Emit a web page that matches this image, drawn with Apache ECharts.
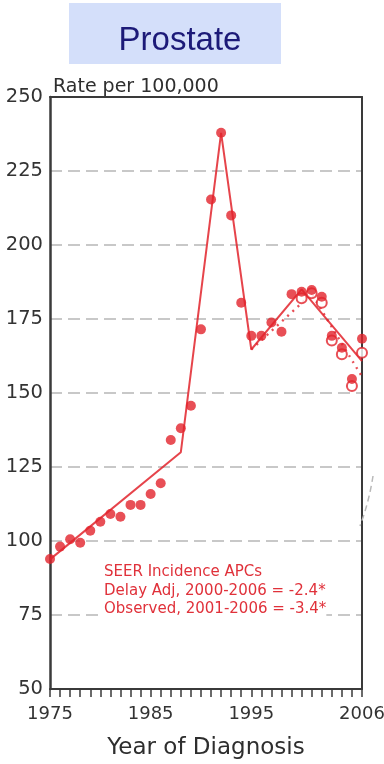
<!DOCTYPE html>
<html>
<head>
<meta charset="utf-8">
<script src="https://cdn.jsdelivr.net/npm/echarts@6/dist/echarts.min.js"></script>
<style>
  html, body { margin: 0; padding: 0; background: #fff; }
  #chart { width: 384px; height: 764px; }
</style>
</head>
<body>
<div id="chart"></div>
<script>
// Prostate cancer incidence, SEER, rate per 100,000
const years = [1975, 1976, 1977, 1978, 1979, 1980, 1981, 1982, 1983, 1984, 1985,
  1986, 1987, 1988, 1989, 1990, 1991, 1992, 1993, 1994, 1995, 1996, 1997, 1998,
  1999, 2000, 2001, 2002, 2003, 2004, 2005, 2006];

// Delay-adjusted rates (filled circles)
const delayAdjusted = [93.9, 98.1, 100.6, 99.4, 103.5, 106.5, 109.1, 108.2, 112.2,
  112.2, 115.9, 119.5, 134.1, 138.1, 145.7, 171.5, 215.4, 237.9, 210.0, 180.5,
  169.3, 169.3, 173.8, 170.7, 183.4, 184.2, 184.8, 182.5, 169.3, 165.3, 154.7, 168.3];

// Observed rates (open circles)
const observedYears = [2000, 2001, 2002, 2003, 2004, 2005, 2006];
const observed = [182.0, 183.7, 180.5, 167.7, 163.1, 152.4, 163.6];

// Joinpoint trend for the delay-adjusted series
const trendAdjYears = [1975, 1988, 1992, 1995, 2000, 2006];
const trendAdj = [93.8, 130.0, 237.9, 164.7, 185.0, 160.8];

// Joinpoint trend for the observed series
const trendObsYears = [1995, 2001, 2006];
const trendObs = [164.7, 183.5, 155.5];

const xTickLabels = [1975, 1985, 1995, 2006];
const yTicks = [50, 75, 100, 125, 150, 175, 200, 225, 250];

const apcLines = [
  'SEER Incidence APCs',
  'Delay Adj, 2000-2006 = -2.4*',
  'Observed, 2001-2006 = -3.4*'
];

const red = '#e2232c';
const frame = '#3a3a3a';
const pair = (xs, ys) => xs.map((x, i) => [x, ys[i]]);

// Plain frame axes for the top and right edges of the plot box
const frameAxis = (extra) => Object.assign({
  type: 'value',
  axisLine: { show: true, onZero: false, lineStyle: { color: frame, width: 2 } },
  axisTick: { show: false },
  axisLabel: { show: false },
  splitLine: { show: false }
}, extra);

const chart = echarts.init(document.getElementById('chart'));
chart.setOption({
  animation: false,
  backgroundColor: '#ffffff',
  title: {
    text: 'Prostate',
    left: 175,
    textAlign: 'center',
    top: 19,
    textStyle: {
      fontFamily: 'Liberation Sans',
      fontSize: 33,
      fontWeight: 'normal',
      color: '#1c1a78'
    }
  },
  grid: {
    left: 50, right: 22, top: 97, bottom: 75,
    outerBoundsMode: 'none',
    containLabel: false
  },
  xAxis: [
    {
      type: 'value',
      min: 1975, max: 2006, interval: 1,
      name: 'Year of Diagnosis',
      nameLocation: 'middle',
      nameGap: 48,
      nameTextStyle: { fontFamily: 'DejaVu Sans', fontSize: 23, color: '#2e2e2e' },
      axisLine: { show: true, onZero: false, lineStyle: { color: frame, width: 2 } },
      axisTick: { show: true, length: 8, lineStyle: { color: frame, width: 1.5 } },
      axisLabel: {
        margin: 16,
        fontFamily: 'DejaVu Sans', fontSize: 18, color: '#333',
        showMaxLabel: true, showMinLabel: true,
        hideOverlap: false,
        formatter: v => (xTickLabels.includes(v) ? String(v) : '')
      },
      splitLine: { show: false }
    },
    frameAxis({ position: 'top', min: 1975, max: 2006 })
  ],
  yAxis: [
    {
      type: 'value',
      min: 50, max: 250, interval: 25,
      name: 'Rate per 100,000',
      nameLocation: 'end',
      nameGap: 0,
      nameTextStyle: {
        fontFamily: 'DejaVu Sans', fontSize: 19, color: '#2e2e2e',
        align: 'left', verticalAlign: 'bottom', padding: [0, 0, 0, 3]
      },
      axisLine: { show: true, onZero: false, lineStyle: { color: frame, width: 2.5 } },
      axisTick: { show: false },
      axisLabel: {
        margin: 7,
        fontFamily: 'DejaVu Sans', fontSize: 19.5, color: '#333',
        formatter: v => (yTicks.includes(v) ? String(v) : '')
      },
      splitLine: { show: true, lineStyle: { color: '#c8c8c8', width: 2, type: [12, 6] } }
    },
    frameAxis({ position: 'right', min: 50, max: 250 })
  ],
  graphic: [
    {
      type: 'rect', z: -10,
      shape: { x: 69, y: 3, width: 212, height: 61 },
      style: { fill: '#d4dffa' }
    },
    {
      type: 'text', z: 50,
      left: 104, top: 563,
      style: {
        text: apcLines.join('\n'),
        fontFamily: 'DejaVu Sans', fontSize: 15, lineHeight: 18.5,
        fill: '#e0313a',
        backgroundColor: '#ffffff'
      }
    },
    {
      type: 'bezierCurve', z: 1,
      shape: { x1: 373, y1: 476, cpx1: 369, cpy1: 502, x2: 360, y2: 526 },
      style: { stroke: '#b9b9b9', lineWidth: 1.5, lineDash: [6, 4], fill: 'none' }
    }
  ],
  series: [
    {
      name: 'Delay Adj trend',
      type: 'line',
      data: pair(trendAdjYears, trendAdj),
      showSymbol: false,
      lineStyle: { color: red, width: 2, opacity: 0.85 },
      z: 3
    },
    {
      name: 'Observed trend',
      type: 'line',
      data: pair(trendObsYears, trendObs),
      showSymbol: false,
      lineStyle: { color: red, width: 2.4, type: [2, 5], opacity: 0.8 },
      z: 3
    },
    {
      name: 'Observed',
      type: 'scatter',
      data: pair(observedYears, observed),
      symbol: 'emptyCircle',
      symbolSize: 10,
      itemStyle: { color: red, borderColor: red, borderWidth: 2 },
      z: 4
    },
    {
      name: 'Delay Adj',
      type: 'scatter',
      data: pair(years, delayAdjusted),
      symbol: 'circle',
      symbolSize: 10,
      itemStyle: { color: red },
      z: 5
    }
  ]
});
</script>
</body>
</html>
